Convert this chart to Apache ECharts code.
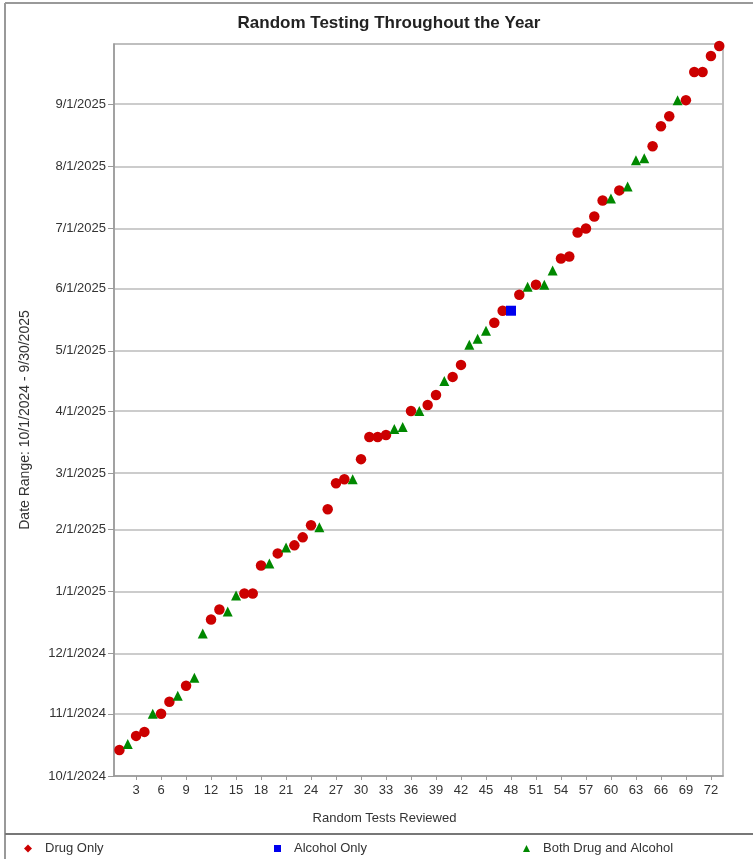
<!DOCTYPE html>
<html><head><meta charset="utf-8">
<script src="https://cdn.jsdelivr.net/npm/echarts@6/dist/echarts.min.js"></script>
<style>html,body{margin:0;padding:0;background:#fff}#c{width:753px;height:859px}</style>
</head><body><div id="c"></div>
<script>
// Test number i+1 -> date of the test
const testDates = [
  '10/14/2024','10/17/2024','10/21/2024','10/23/2024','11/1/2024','11/1/2024','11/7/2024','11/10/2024','11/15/2024','11/19/2024',
  '12/11/2024','12/18/2024','12/23/2024','12/22/2024','12/30/2024','12/31/2024','12/31/2024','1/14/2025','1/15/2025','1/20/2025',
  '1/23/2025','1/24/2025','1/28/2025','2/3/2025','2/2/2025','2/11/2025','2/24/2025','2/26/2025','2/26/2025','3/8/2025',
  '3/19/2025','3/19/2025','3/20/2025','3/23/2025','3/24/2025','4/1/2025','4/1/2025','4/4/2025','4/9/2025','4/16/2025',
  '4/18/2025','4/24/2025','5/4/2025','5/7/2025','5/11/2025','5/15/2025','5/21/2025','5/21/2025','5/29/2025','6/2/2025',
  '6/3/2025','6/3/2025','6/10/2025','6/16/2025','6/17/2025','6/29/2025','7/1/2025','7/7/2025','7/15/2025','7/16/2025',
  '7/20/2025','7/22/2025','8/4/2025','8/5/2025','8/11/2025','8/21/2025','8/26/2025','9/3/2025','9/3/2025','9/17/2025',
  '9/17/2025','9/25/2025','9/30/2025'
];
// D = Drug Only, A = Alcohol Only, B = Both Drug and Alcohol
const testTypes = [
  'D','B','D','D','B','D','D','B','D','B',
  'B','D','D','B','B','D','D','D','B','D',
  'B','D','D','D','B','D','D','D','B','D',
  'D','D','D','B','B','D','B','D','D','B',
  'D','D','B','B','B','D','D','A','D','B',
  'D','B','B','D','D','D','D','D','D','B',
  'D','B','B','B','D','D','D','B','D','D',
  'D','D','D'
];
const seriesNames = {D: 'Drug Only', A: 'Alcohol Only', B: 'Both Drug and Alcohol'};
const xTickValues = [3,6,9,12,15,18,21,24,27,30,33,36,39,42,45,48,51,54,57,60,63,66,69,72];
const yTickLabels = ['10/1/2024','11/1/2024','12/1/2024','1/1/2025','2/1/2025','3/1/2025','4/1/2025','5/1/2025','6/1/2025','7/1/2025','8/1/2025','9/1/2025'];
const yRange = ['10/1/2024','10/1/2025'];
const xRange = [0.35, 73.45];

function parseDate(s){ const p = s.split('/').map(Number); return Date.UTC(p[2], p[0]-1, p[1]); }
function fmtDate(v){ const d = new Date(v); return (d.getUTCMonth()+1)+'/'+d.getUTCDate()+'/'+d.getUTCFullYear(); }

function pointsOf(code){
  const out = [];
  testDates.forEach((s,i)=>{ if(testTypes[i]===code) out.push([i+1, parseDate(s)]); });
  return out;
}
const yTickValues = yTickLabels.map(parseDate);
const FONT = "'Liberation Sans', Arial, sans-serif";
const txt = '#333';
const legendText = {fontFamily:FONT, fontSize:13, color:txt, padding:[0,0,0,8]};

const chart = echarts.init(document.getElementById('c'), null, {renderer:'canvas'});
chart.setOption({
  animation: false,
  backgroundColor: '#fff',
  textStyle: {fontFamily: FONT},
  title: {
    text: 'Random Testing Throughout the Year',
    left: 384, top: 10, textAlign: 'center',
    textStyle: {fontFamily: FONT, fontSize: 17, fontWeight: 'bold', color: '#222'}
  },
  graphic: [
    {type:'line', shape:{x1:5,y1:3,x2:5,y2:859}, style:{stroke:'#999', lineWidth:2}, silent:true},
    {type:'line', shape:{x1:5,y1:3,x2:753,y2:3}, style:{stroke:'#999', lineWidth:2}, silent:true},
    {type:'line', shape:{x1:5,y1:834,x2:753,y2:834}, style:{stroke:'#777', lineWidth:2}, silent:true}
  ],
  grid: {left: 114, right: 30, top: 44, bottom: 83, show: true, borderColor: '#aaa', borderWidth: 1.5, containLabel: false},
  legend: [
    {data:[{name:'Drug Only', icon:'diamond'}], left: 19, top: 837, itemWidth: 8, itemHeight: 8, textStyle: legendText},
    {data:[{name:'Alcohol Only', icon:'rect'}], left: 269, top: 837, itemWidth: 7, itemHeight: 7, textStyle: legendText},
    {data:[{name:'Both Drug and Alcohol', icon:'triangle'}], left: 518, top: 837, itemWidth: 7, itemHeight: 7, textStyle: legendText}
  ],
  xAxis: {
    type: 'value', min: xRange[0], max: xRange[1],
    name: 'Random Tests Reviewed', nameLocation: 'middle', nameGap: 36,
    nameTextStyle: {fontFamily: FONT, fontSize: 13, color: txt, padding: [0, 68, 0, 0]},
    axisLine: {show: true, lineStyle: {color: '#999', width: 1.5}},
    axisTick: {show: true, length: 4, customValues: xTickValues, lineStyle: {color: '#999'}},
    axisLabel: {customValues: xTickValues, fontFamily: FONT, fontSize: 13, color: txt, margin: 8},
    splitLine: {show: false}
  },
  yAxis: {
    type: 'value', min: parseDate(yRange[0]), max: parseDate(yRange[1]),
    name: 'Date Range: 10/1/2024 - 9/30/2025', nameLocation: 'middle', nameGap: 82, nameRotate: 90,
    nameTextStyle: {fontFamily: FONT, fontSize: 14, color: txt, padding: [0, 20, 0, 0]},
    axisLine: {show: true, lineStyle: {color: '#999', width: 1.5}},
    axisTick: {show: true, length: 6, customValues: yTickValues, lineStyle: {color: '#999'}},
    axisLabel: {customValues: yTickValues, formatter: fmtDate, fontFamily: FONT, fontSize: 13, color: txt, margin: 8},
    splitLine: {show: true, lineStyle: {color: '#bbb', width: 1.5}}
  },
  series: [
    {name: seriesNames.D, type:'scatter', symbol:'circle', symbolSize: 10.5, itemStyle:{color:'#cc0000', opacity:1}, data: pointsOf('D')},
    {name: seriesNames.A, type:'scatter', symbol:'rect', symbolSize: 10, itemStyle:{color:'#0000ee', opacity:1}, data: pointsOf('A')},
    {name: seriesNames.B, type:'scatter', symbol:'triangle', symbolSize: 10, itemStyle:{color:'#008800', opacity:1}, data: pointsOf('B')}
  ]
});
</script>
</body></html>
